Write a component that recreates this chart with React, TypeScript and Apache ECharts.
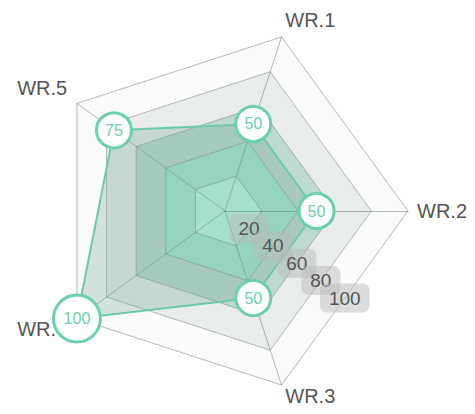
import React, { useEffect, useRef } from 'react';
import * as echarts from 'echarts';

// ---- data ----
const categories = ['WR.1', 'WR.2', 'WR.3', 'WR.4', 'WR.5'];
const values = [50, 50, 50, 100, 75];
const ticks = [0, 20, 40, 60, 80, 100];

export default function App() {
  const ref = useRef<HTMLDivElement>(null);

  useEffect(() => {
    const chart = echarts.init(ref.current as HTMLDivElement, null, { renderer: 'svg' });

    // ECharts lays indicators counter-clockwise; the reference goes clockwise from WR.1
    const order = [0, ...categories.map((_, i) => i).slice(1).reverse()];
    const axisMax = ticks[ticks.length - 1];
    const font = 'Arial, "Liberation Sans", sans-serif';
    const indicator = order.map((i) => ({
      name: categories[i],
      max: axisMax,
      nameGap: categories[i] === 'WR.2' ? 9 : 12,
    }));
    const data = order.map((i) => values[i]);

    const mint = '#6dd0ac';
    const nameStyle = { color: '#555', fontSize: 20, fontFamily: font };
    const rich: Record<string, any> = {
      up6: { ...nameStyle, padding: [0, 0, 12, 0] },
      up8: { ...nameStyle, padding: [0, 0, 16, 0] },
      dn3: { ...nameStyle, padding: [6, 0, 0, 0] },
      n: { ...nameStyle },
    };
    const nudge: Record<string, string> = { 'WR.1': 'up6', 'WR.5': 'up8', 'WR.4': 'dn3' };

    const labelStyle = {
      show: true,
      margin: 0,
      align: 'center',
      verticalAlign: 'middle',
      color: '#555',
      fontSize: 19,
      fontFamily: font,
      backgroundColor: 'rgba(185,185,185,0.5)',
      borderRadius: 7,
      padding: [5, 9],
    };
    const labelRadar = (splitNumber: number, showMax: boolean) => ({
      center: [225, 211],
      radius: 183 * Math.cos(Math.PI / 5),
      startAngle: -36,
      splitNumber,
      indicator: [{ name: '', max: axisMax }],
      axisName: { show: false },
      axisLine: { show: false },
      splitLine: { show: false },
      splitArea: { show: false },
      axisLabel: { ...labelStyle, showMinLabel: false, showMaxLabel: showMax },
      z: 10,
    });

    chart.setOption({
      animation: false,
      radar: [
        {
          center: [225, 211],
          radius: 183,
          startAngle: 72,
          splitNumber: ticks.length - 1,
          indicator,
          nameGap: 12,
          axisName: {
            ...nameStyle,
            formatter: (name: string) => `{${nudge[name] || 'n'}|${name}}`,
            rich,
          },
          axisLine: { lineStyle: { color: 'rgba(70,95,88,0.42)', width: 1 } },
          splitLine: { lineStyle: { color: 'rgba(70,95,88,0.42)', width: 1 } },
          splitArea: {
            show: true,
            areaStyle: {
              color: ['#b8fbe5', '#a3e8cf', '#bedad0', '#e9ecec', '#fbfbfb'],
            },
          },
        },
        // ticks 20..80 along the bisector between WR.2 and WR.3
        labelRadar(ticks.length - 1, false),
        // the top tick (100), on its own so the overlap rule does not hide 80
        labelRadar(1, true),
      ],
      series: [
        {
          type: 'radar',
          radarIndex: 0,
          symbol: 'circle',
          symbolSize: 35,
          data: [{ value: data }],
          lineStyle: { color: mint, width: 2 },
          itemStyle: { color: '#fff', borderColor: mint, borderWidth: 3 },
          areaStyle: { color: 'rgba(120,165,150,0.3)', opacity: 1 },
          label: {
            show: true,
            position: 'inside',
            color: mint,
            fontSize: 16,
            fontFamily: font,
            formatter: (p: any) => (String(p.value).length > 2 ? `{big|${p.value}}` : `${p.value}`),
            rich: {
              big: {
                color: mint,
                fontSize: 16,
                fontFamily: font,
                width: 44,
                height: 44,
                lineHeight: 44,
                align: 'center',
                backgroundColor: '#fff',
                borderColor: mint,
                borderWidth: 3,
                borderRadius: 22,
              },
            },
          },
        },
      ],
    });

    return () => chart.dispose();
  }, []);

  return (
    <div
      ref={ref}
      style={{ position: 'absolute', left: 0, top: 0, width: 475, height: 414 }}
    />
  );
}
